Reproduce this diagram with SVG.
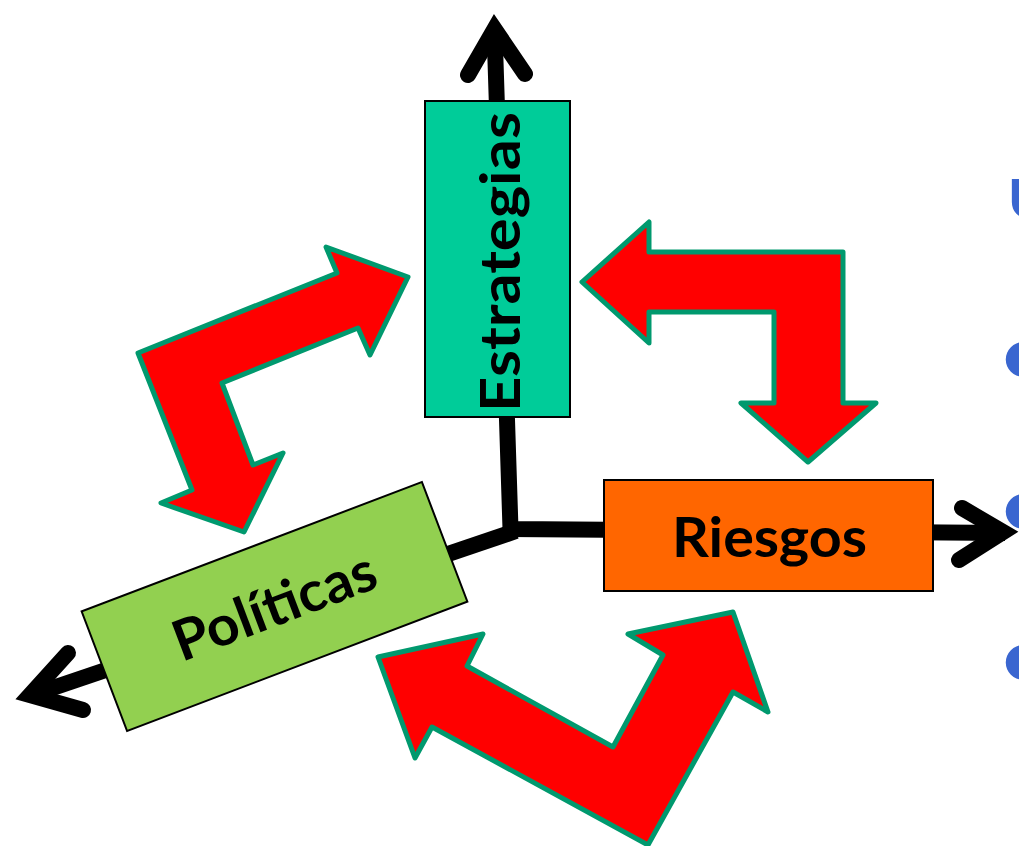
<svg xmlns="http://www.w3.org/2000/svg" width="1019" height="846" viewBox="0 0 1019 846">
<style>
.axis{fill:none;stroke:#000;stroke-width:16;stroke-linejoin:miter;stroke-linecap:butt}
.head{fill:none;stroke:#000;stroke-width:16;stroke-linejoin:miter;stroke-miterlimit:10;stroke-linecap:round}
.red{fill:#FF0000;stroke:#00996E;stroke-width:5;stroke-linejoin:round}
.box{stroke:#000;stroke-width:2}
.lbl{font-family:Lato,"Liberation Sans",sans-serif;font-weight:700;font-size:56px;fill:#000;text-anchor:middle}
.blue{font-family:Lato,"Liberation Sans",sans-serif;font-weight:700;fill:#3A66D0}
</style>
<rect width="1019" height="846" fill="#fff"/>
<g id="connectors">
<path class="axis" d="M494.5 30 L510.5 529 L1005 533"/>
<path class="axis" d="M516 531 L32 695"/>
<polyline class="head" points="468,75 494.5,29 525,74"/>
<polyline class="head" points="962,508 1003,532 959,560"/>
<polyline class="head" points="68,653 30,695 83,710"/>
<polygon class="red" points="408,277 326,247 337,273 138,353 192,490 161,503 244,532 283,453 253,465 222,383 358,328 370,355"/>
<polygon class="red" points="582,282 649,222 649,252 843,252 843,403 876,403 808,462 741,403 774,403 774,312 649,312 649,343"/>
<polygon class="red" points="378,657 483,634 467,666 613,747 663,655 628,634 733,612 768,712 733,692 648,845 432,727 415,758"/>
</g>
<g id="estrategias">
<rect class="box" x="425" y="101" width="145" height="316" fill="#00CC99"/>
<text class="lbl" transform="translate(520 262) rotate(-90)" font-size="58" textLength="300" lengthAdjust="spacingAndGlyphs">Estrategias</text>
</g>
<g id="riesgos">
<rect class="box" x="604" y="480" width="329" height="111" fill="#FF6600"/>
<text class="lbl" x="769.5" y="557" textLength="195" lengthAdjust="spacingAndGlyphs">Riesgos</text>
</g>
<g id="politicas" transform="translate(274.5 606.5) rotate(-20.8)">
<rect class="box" x="-182" y="-64" width="364" height="128" fill="#92D050"/>
<text class="lbl" x="0" y="19" textLength="213" lengthAdjust="spacingAndGlyphs">Políticas</text>
</g>
<g id="sidetext">
<text class="blue" x="1008" y="218" font-size="54">U</text>
<text class="blue" x="1000" y="383" font-size="80">•</text>
<text class="blue" x="1000" y="535" font-size="80">•</text>
<text class="blue" x="1000" y="686" font-size="80">•</text>
</g>
</svg>
